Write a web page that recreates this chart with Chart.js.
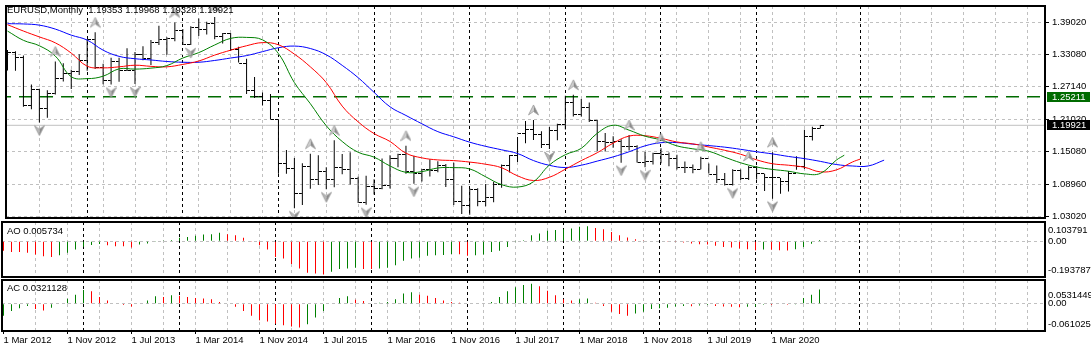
<!DOCTYPE html>
<html>
<head>
<meta charset="utf-8">
<script src="https://cdn.jsdelivr.net/npm/chart.js@4/dist/chart.umd.min.js"></script>
<style>
  body { margin: 0; background: #fff; width: 1091px; height: 352px; overflow: hidden; position: relative;
         font-family: "Liberation Sans", Arial, sans-serif; }
  canvas { position: absolute; left: 0; }
  .lbl { position: absolute; left: 7px; font-size: 9.5px; line-height: 11px; color: #000; white-space: pre; z-index: 5; }
</style>
</head>
<body>
<canvas id="main" width="1091" height="226" style="top:0"></canvas>
<canvas id="ao" width="1091" height="59" style="top:220px"></canvas>
<canvas id="ac" width="1091" height="75" style="top:277px"></canvas>
<div class="lbl" style="top:4px">EURUSD,Monthly  1.19353 1.19968 1.19328 1.19921</div>
<div class="lbl" style="top:225px">AO 0.005734</div>
<div class="lbl" style="top:282px">AC 0.0321128</div>
<script>
// monthly bars, 1 Mar 2012 .. 1 Sep 2020
const opens = [1.3323,1.3341,1.3237,1.2366,1.2661,1.2308,1.2575,1.2856,1.2955,1.2988,
  1.3194,1.3578,1.3058,1.2818,1.3169,1.2998,1.3009,1.3301,1.3223,1.3525,1.3584,1.3591,
  1.3743,1.3486,1.3804,1.3771,1.3868,1.3633,1.3692,1.3389,1.3132,1.2628,1.2524,1.2452,
  1.2098,1.1290,1.1196,1.0731,1.1224,1.0986,1.1146,1.0984,1.1211,1.1177,1.1006,1.0565,
  1.0862,1.0831,1.0873,1.1380,1.1452,1.1131,1.1106,1.1175,1.1157,1.1240,1.0981,1.0589,
  1.0517,1.0797,1.0575,1.0652,1.0894,1.1241,1.1425,1.1841,1.1910,1.1814,1.1646,1.1903,
  1.2005,1.2413,1.2193,1.2324,1.2078,1.1693,1.1683,1.1692,1.1601,1.1604,1.1312,1.1317,
  1.1466,1.1446,1.1372,1.1217,1.1214,1.1167,1.1371,1.1075,1.0988,1.0899,1.1152,1.1017,
  1.1213,1.1093,1.1026,1.1030,1.0954,1.1101,1.1234,1.1778,1.19353];
const highs = [1.3386,1.3360,1.3283,1.2748,1.2668,1.2640,1.3172,1.3140,1.3020,1.3308,
  1.3588,1.3711,1.3130,1.3243,1.3243,1.3417,1.3346,1.3452,1.3568,1.3832,1.3620,1.3893,
  1.3775,1.3825,1.3967,1.3906,1.3993,1.3700,1.3700,1.3444,1.3223,1.2887,1.2600,1.2570,
  1.2104,1.1535,1.1387,1.1290,1.1467,1.1436,1.1216,1.1714,1.1460,1.1495,1.1041,1.1059,
  1.0993,1.1376,1.1438,1.1464,1.1616,1.1428,1.1186,1.1366,1.1327,1.1278,1.1300,1.0874,
  1.0829,1.0829,1.0906,1.0950,1.1268,1.1445,1.1777,1.2070,1.2092,1.1880,1.1961,1.2023,
  1.2537,1.2556,1.2477,1.2414,1.2096,1.1852,1.1791,1.1734,1.1815,1.1625,1.1500,1.1486,
  1.1570,1.1489,1.1448,1.1324,1.1265,1.1412,1.1286,1.1250,1.1109,1.1179,1.1175,1.1240,
  1.1239,1.1095,1.1496,1.1019,1.1147,1.1422,1.1909,1.1966,1.19968];
const lows = [1.3004,1.3003,1.2335,1.2288,1.2042,1.2132,1.2560,1.2802,1.2661,1.2923,
  1.3001,1.3031,1.2750,1.2745,1.2796,1.2997,1.2755,1.3193,1.3105,1.3479,1.3295,1.3548,
  1.3478,1.3475,1.3642,1.3673,1.3584,1.3503,1.3366,1.3152,1.2571,1.2499,1.2358,1.2100,
  1.1098,1.1098,1.0457,1.0520,1.0819,1.0887,1.0808,1.0848,1.1087,1.0897,1.0557,1.0524,
  1.0711,1.0810,1.0822,1.1217,1.1098,1.0912,1.0952,1.1046,1.1123,1.0852,1.0518,1.0352,
  1.0340,1.0494,1.0494,1.0569,1.0839,1.1118,1.1312,1.1662,1.1718,1.1574,1.1554,1.1717,
  1.1916,1.2155,1.2155,1.2053,1.1510,1.1508,1.1576,1.1301,1.1526,1.1302,1.1216,1.1269,
  1.1289,1.1234,1.1176,1.1110,1.1107,1.1181,1.1102,1.0926,1.0879,1.0879,1.0981,1.0981,
  1.0992,1.0778,1.0636,1.0727,1.0767,1.1168,1.1185,1.1711,1.19328];
const closes = [1.3341,1.3237,1.2366,1.2661,1.2308,1.2575,1.2856,1.2955,1.2988,1.3194,
  1.3578,1.3058,1.2818,1.3169,1.2998,1.3009,1.3301,1.3223,1.3525,1.3584,1.3591,1.3743,
  1.3486,1.3804,1.3771,1.3868,1.3633,1.3692,1.3389,1.3132,1.2628,1.2524,1.2452,1.2098,
  1.1290,1.1196,1.0731,1.1224,1.0986,1.1146,1.0984,1.1211,1.1177,1.1006,1.0565,1.0862,
  1.0831,1.0873,1.1380,1.1452,1.1131,1.1106,1.1175,1.1157,1.1240,1.0981,1.0589,1.0517,
  1.0797,1.0575,1.0652,1.0894,1.1241,1.1425,1.1841,1.1910,1.1814,1.1646,1.1903,1.2005,
  1.2413,1.2193,1.2324,1.2078,1.1693,1.1683,1.1692,1.1601,1.1604,1.1312,1.1317,1.1466,
  1.1446,1.1372,1.1217,1.1214,1.1167,1.1371,1.1075,1.0988,1.0899,1.1152,1.1017,1.1213,
  1.1093,1.1026,1.1030,1.0954,1.1101,1.1234,1.1778,1.1935,1.19921];

// Alligator lines, read every 2nd bar (they run past the last bar: 8 / 5 / 3 bars)
const jaw = [1.3871,1.3866,1.3844,1.3771,1.3659,1.3568,1.3381,1.3267,1.3223,1.3200,
  1.3172,1.3158,1.3158,1.3191,1.3236,1.3281,1.3354,1.3427,1.3457,1.3412,
  1.3296,1.3100,1.2873,1.2601,1.2334,1.2174,1.2020,1.1875,1.1779,1.1680,
  1.1603,1.1539,1.1470,1.1340,1.1252,1.1212,1.1254,1.1330,1.1408,1.1503,
  1.1612,1.1670,1.1672,1.1644,1.1617,1.1588,1.1548,1.1503,1.1463,1.1416,
  1.1376,1.1325,1.1267,1.1240,1.1240,1.1348];
const teeth = [1.3853,1.3735,1.3626,1.3517,1.3327,1.3085,1.3054,1.3073,1.3103,1.3082,
  1.3073,1.3118,1.3181,1.3290,1.3381,1.3463,1.3521,1.3481,1.3308,1.3073,
  1.2782,1.2347,1.2056,1.1839,1.1693,1.1476,1.1390,1.1352,1.1339,1.1312,
  1.1272,1.1207,1.1058,1.0971,1.1031,1.1180,1.1339,1.1485,1.1662,1.1793,
  1.1799,1.1751,1.1684,1.1648,1.1590,1.1530,1.1457,1.1354,1.1281,1.1254,
  1.1216,1.1131,1.1167,1.1312];
const teethEnd = [107, 1.1367];
const lips = [1.3735,1.3563,1.3463,1.3272,1.2891,1.2855,1.2900,1.3036,1.3031,1.3049,
  1.3096,1.3236,1.3336,1.3477,1.3599,1.3617,1.3572,1.3318,1.2782,1.2392,
  1.1984,1.1693,1.1494,1.1403,1.1240,1.1122,1.1136,1.1203,1.1209,1.1185,
  1.1040,1.0895,1.0850,1.0949,1.1258,1.1448,1.1566,1.1844,1.1993,1.1902,
  1.1791,1.1721,1.1612,1.1557,1.1512,1.1403,1.1299,1.1221,1.1176,1.1143,
  1.1094,1.1103,1.1348];
const lipsEnd = [105, 1.1439];

const fracUp = [6, 11, 21, 26, 38, 41, 50, 66, 71, 78, 82, 87, 93, 96];
const fracDown = [4, 13, 16, 23, 36, 40, 45, 51, 58, 68, 77, 80, 91, 96];

const ao = [-0.052,-0.058,-0.059,-0.063,-0.072,-0.081,-0.085,-0.076,-0.063,-0.045,
  -0.030,-0.020,-0.015,-0.022,-0.027,-0.028,-0.034,-0.018,-0.013,-0.004,
  0.001,0.007,0.018,0.023,0.029,0.036,0.038,0.045,0.038,0.032,
  0.018,-0.002,-0.022,-0.045,-0.085,-0.094,-0.124,-0.148,-0.171,-0.175,
  -0.180,-0.166,-0.151,-0.148,-0.144,-0.150,-0.151,-0.148,-0.144,-0.130,
  -0.106,-0.094,-0.090,-0.079,-0.076,-0.075,-0.070,-0.071,-0.079,-0.076,
  -0.072,-0.058,-0.052,-0.031,-0.004,0.005,0.032,0.041,0.056,0.060,
  0.065,0.069,0.078,0.081,0.072,0.065,0.050,0.032,0.020,0.011,
  0.004,0.000,-0.003,-0.004,-0.005,-0.007,-0.013,-0.016,-0.018,-0.025,
  -0.031,-0.034,-0.040,-0.043,-0.049,-0.045,-0.047,-0.049,-0.050,-0.043,
  -0.031,-0.014,0.005734];
const ac = [-0.027,-0.016,-0.010,-0.005,-0.012,-0.015,-0.009,0.001,0.011,0.020,
  0.031,0.028,0.015,0.007,0.001,-0.003,-0.006,0.001,0.007,0.017,
  0.015,0.019,0.018,0.015,0.013,0.012,0.010,0.004,-0.001,-0.007,
  -0.016,-0.027,-0.037,-0.040,-0.045,-0.048,-0.051,-0.053,-0.046,-0.031,
  -0.016,0.000,0.013,0.017,0.009,0.006,0.001,0.002,0.004,0.010,
  0.023,0.026,0.020,0.018,0.013,0.007,0.004,0.002,0.001,0.000,
  0.001,0.004,0.015,0.028,0.037,0.042,0.045,0.039,0.029,0.019,
  0.010,0.007,0.010,0.012,0.002,-0.005,-0.018,-0.023,-0.027,-0.022,
  -0.018,-0.012,-0.010,-0.009,-0.006,-0.005,-0.0055,-0.004,-0.003,-0.005,
  -0.006,-0.007,-0.008,-0.007,-0.006,-0.002,-0.003,-0.001,-0.002,-0.0005,
  0.013,0.020,0.0321128];

const priceTicks = [1.0302, 1.0896, 1.1508, 1.2102, 1.2714, 1.3308, 1.3902];
const levelPrice = 1.25211;
const aoRange = [0.103791, -0.193787];
const aoLabels = ['0.103791', '0.00', '-0.193787'];
const acRange = [0.0531449, -0.061025];
const acLabels = ['0.0531449', '0.00', '-0.061025'];
const xTickLabels = ['1 Mar 2012', '1 Nov 2012', '1 Jul 2013', '1 Mar 2014', '1 Nov 2014', '1 Jul 2015',
  '1 Mar 2016', '1 Nov 2016', '1 Jul 2017', '1 Mar 2018', '1 Nov 2018', '1 Jul 2019', '1 Mar 2020'];
const yearStarts = [10, 22, 34, 46, 58, 70, 82, 94, 107];

// layout
const X_MIN = -0.1875, X_MAX = 130.1875;   // 8px per month
const Y_MIN = 1.0278, Y_MAX = 1.4198;
const font = { family: '"Liberation Sans", Arial, sans-serif', size: 9.5 };
const GREEN = '#008000', RED = '#ff0000', GRID = '#c0c0c0', CLEAR = 'rgba(0,0,0,0)';
const lastClose = closes[closes.length - 1];
const gridIdx = [];
for (let i = 0; i <= 128; i += 4) gridIdx.push(i);
const tickLabel = v => (v % 8 === 0 && xTickLabels[v / 8]) || '';
const noPad = s => { s.paddingTop = 0; s.paddingBottom = 0; s.paddingLeft = 0; s.paddingRight = 0; };

function xScales(showLabels) {
  return {
    x: {
      type: 'linear', min: X_MIN, max: X_MAX, position: 'bottom', offset: false,
      afterBuildTicks: s => { s.ticks = gridIdx.map(v => ({ value: v })); },
      afterFit: s => { s.height = showLabels ? 21 : 0; noPad(s); },
      ticks: { display: showLabels, autoSkip: false, maxRotation: 0, align: 'start',
               padding: 1, color: '#000', font, callback: v => tickLabel(v) },
      grid: { offset: false, color: c => (c.tick && c.tick.value > 0 ? GRID : CLEAR),
              drawTicks: showLabels, tickLength: 3, tickBorderDash: [],
              tickColor: c => (c.tick && tickLabel(c.tick.value) ? '#000' : CLEAR) },
      border: { display: false, dash: [3, 3] }
    },
    xYear: {
      type: 'linear', min: X_MIN, max: X_MAX, position: 'bottom', offset: false,
      afterBuildTicks: s => { s.ticks = yearStarts.map(v => ({ value: v })); },
      afterFit: s => { s.height = 0; noPad(s); },
      ticks: { display: false },
      grid: { offset: false, color: '#000', drawTicks: false },
      border: { display: false, dash: [3, 3] }
    }
  };
}

const frame = {
  id: 'frame',
  afterDraw(chart) {
    const a = chart.chartArea, ctx = chart.ctx;
    ctx.save();
    ctx.strokeStyle = '#000';
    ctx.lineWidth = 2;
    ctx.strokeRect(a.left, a.top, a.right - a.left, a.bottom - a.top);
    ctx.restore();
  }
};

const priceBoxes = {
  id: 'priceBoxes',
  afterDraw(chart) {
    const { ctx, chartArea: a } = chart, y = chart.scales.y;
    ctx.save();
    [[levelPrice, '#006b00'], [lastClose, '#000']].forEach(([v, bg]) => {
      const py = Math.round(y.getPixelForValue(v));
      ctx.fillStyle = bg;
      ctx.fillRect(a.right + 2, py - 5, chart.width - a.right - 3, 10);
      ctx.fillStyle = '#fff';
      ctx.font = '9.5px "Liberation Sans", Arial, sans-serif';
      ctx.textBaseline = 'middle';
      ctx.fillText(v.toFixed(5), a.right + 7, py + 0.5);
    });
    ctx.restore();
  }
};

// bar ticks and fractal arrows as point images
function tickImg(left) {
  const c = document.createElement('canvas');
  c.width = 7; c.height = 1;
  const g = c.getContext('2d');
  g.fillStyle = '#000';
  g.fillRect(left ? 0 : 4, 0, 3, 1);
  return c;
}
function arrowImg(up) {
  const c = document.createElement('canvas');
  c.width = 11; c.height = 32;
  const g = c.getContext('2d');
  const t = up ? 1 : 19;
  const pts = up
    ? [[5.5, t], [10.5, t + 10], [5.5, t + 6.5], [0.5, t + 10]]
    : [[5.5, t + 10], [0.5, t], [5.5, t + 3.5], [10.5, t]];
  g.beginPath();
  g.moveTo(pts[0][0], pts[0][1]); g.lineTo(pts[1][0], pts[1][1]); g.lineTo(pts[2][0], pts[2][1]); g.closePath();
  g.fillStyle = up ? '#8a8a8a' : '#b8b8b8'; g.fill();
  g.beginPath();
  g.moveTo(pts[0][0], pts[0][1]); g.lineTo(pts[3][0], pts[3][1]); g.lineTo(pts[2][0], pts[2][1]); g.closePath();
  g.fillStyle = up ? '#d0d0d0' : '#8a8a8a'; g.fill();
  g.beginPath();
  pts.forEach((p, k) => (k ? g.lineTo(p[0], p[1]) : g.moveTo(p[0], p[1])));
  g.closePath();
  g.strokeStyle = '#9a9a9a'; g.lineWidth = 0.8; g.stroke();
  return c;
}

const common = pad => ({
  responsive: false, animation: false, events: [],
  layout: { padding: pad },
  plugins: { legend: { display: false }, tooltip: { enabled: false } }
});
const evenPts = (arr, end) => {
  const pts = arr.map((v, k) => ({ x: 2 * k, y: v }));
  if (end) pts.push({ x: end[0], y: end[1] });
  return pts;
};
const alligator = (data, color) => ({ type: 'line', data, borderColor: color, borderWidth: 1,
  pointRadius: 0, tension: 0.4, fill: false });
const hLine = (v, color, dash, w) => ({ type: 'line', data: [{ x: X_MIN - 1, y: v }, { x: X_MAX + 1, y: v }],
  borderColor: color, borderDash: dash, borderWidth: w, pointRadius: 0, fill: false });

new Chart(document.getElementById('main'), {
  type: 'bar',
  data: {
    datasets: [
      { type: 'scatter', data: fracUp.map(i => ({ x: i, y: highs[i] })), pointStyle: arrowImg(true), pointRadius: 5 },
      { type: 'scatter', data: fracDown.map(i => ({ x: i, y: lows[i] })), pointStyle: arrowImg(false), pointRadius: 5 },
      alligator(evenPts(lips, lipsEnd), GREEN),
      alligator(evenPts(teeth, teethEnd), RED),
      alligator(evenPts(jaw), '#0000ff'),
      { type: 'scatter', data: opens.map((v, i) => ({ x: i, y: v })), pointStyle: tickImg(true), pointRadius: 3 },
      { type: 'scatter', data: closes.map((v, i) => ({ x: i, y: v })), pointStyle: tickImg(false), pointRadius: 3 },
      { type: 'bar', data: highs.map((h, i) => ({ x: i, y: [lows[i], h] })), backgroundColor: '#000',
        barThickness: 1, inflateAmount: 0, borderWidth: 0, grouped: false },
      hLine(levelPrice, '#006b00', [13, 8], 1.5),
      hLine(lastClose, GRID, [], 1)
    ]
  },
  options: Object.assign(common({ top: 2, bottom: 8, left: 2, right: 0 }), {
    scales: Object.assign(xScales(false), {
      y: {
        type: 'linear', position: 'right', min: Y_MIN, max: Y_MAX,
        afterBuildTicks: s => { s.ticks = priceTicks.map(v => ({ value: v })); },
        afterFit: s => { s.width = 46; noPad(s); },
        ticks: { color: '#000', font, padding: 3, autoSkip: false, callback: v => v.toFixed(5) },
        grid: { color: GRID, tickLength: 4, tickColor: '#000', tickBorderDash: [] },
        border: { display: false, dash: [3, 3] }
      }
    })
  }),
  plugins: [frame, priceBoxes]
});

function oscChart(id, values, firstColor, range, labels, topPx, bottomPx, panelH, showX, pad) {
  const colors = values.map((v, i) => (i === 0 ? firstColor : v > values[i - 1] ? GREEN : RED));
  new Chart(document.getElementById(id), {
    type: 'bar',
    data: { datasets: [{ data: values.map((v, i) => ({ x: i, y: v })), backgroundColor: colors,
      barThickness: 1, inflateAmount: 0, borderWidth: 0 }] },
    options: Object.assign(common(pad), {
      scales: Object.assign(xScales(showX), {
        y: {
          type: 'linear', position: 'right', min: range[1], max: range[0],
          afterBuildTicks: s => {
            const r = s.max - s.min;
            s.ticks = [{ value: s.max - r * topPx / panelH }, { value: 0 }, { value: s.min + r * bottomPx / panelH }];
          },
          afterFit: s => { s.width = 46; noPad(s); },
          ticks: { color: '#000', font, padding: 3, autoSkip: false, callback: (v, i) => labels[i] },
          grid: { color: c => (c.index === 1 ? GRID : CLEAR), drawTicks: false },
          border: { display: false, dash: [3, 3] }
        }
      })
    }),
    plugins: [frame]
  });
}
oscChart('ao', ao, RED, aoRange, aoLabels, 8, 7, 55, false, { top: 2, bottom: 2, left: 2, right: 0 });
oscChart('ac', ac, GREEN, acRange, acLabels, 15, 7, 51, true, { top: 3, bottom: 0, left: 2, right: 0 });
</script>
</body>
</html>
